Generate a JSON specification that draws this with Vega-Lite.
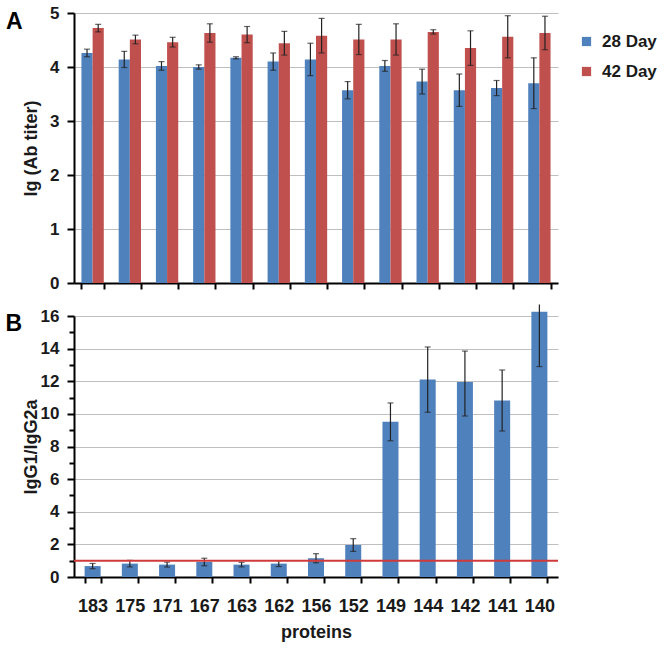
{
  "$schema": "https://vega.github.io/schema/vega-lite/v6.json",
  "background": "white",
  "padding": {"left": 5, "top": 4, "right": 0, "bottom": 4},
  "config": {
    "font": "Liberation Sans",
    "view": {"stroke": null},
    "axis": {"labelFont": "Liberation Sans", "titleFont": "Liberation Sans", "labelFontWeight": "bold", "titleFontWeight": "bold", "labelColor": "#1a1a1a", "titleColor": "#1a1a1a", "domainColor": "black", "domainWidth": 2, "tickColor": "black", "tickWidth": 2, "gridColor": "#bfbfbf", "gridWidth": 1},
    "axisY": {"labelOverlap": false}
  },
  "datasets": {
    "titer": [
      {"protein": "183", "day": "28 Day", "v": 4.26, "lo": 4.19, "hi": 4.33},
      {"protein": "183", "day": "42 Day", "v": 4.72, "lo": 4.65, "hi": 4.79},
      {"protein": "175", "day": "28 Day", "v": 4.14, "lo": 3.99, "hi": 4.29},
      {"protein": "175", "day": "42 Day", "v": 4.51, "lo": 4.43, "hi": 4.59},
      {"protein": "171", "day": "28 Day", "v": 4.02, "lo": 3.94, "hi": 4.10},
      {"protein": "171", "day": "42 Day", "v": 4.46, "lo": 4.37, "hi": 4.55},
      {"protein": "167", "day": "28 Day", "v": 4.00, "lo": 3.96, "hi": 4.04},
      {"protein": "167", "day": "42 Day", "v": 4.63, "lo": 4.46, "hi": 4.80},
      {"protein": "163", "day": "28 Day", "v": 4.17, "lo": 4.15, "hi": 4.19},
      {"protein": "163", "day": "42 Day", "v": 4.60, "lo": 4.45, "hi": 4.75},
      {"protein": "162", "day": "28 Day", "v": 4.10, "lo": 3.94, "hi": 4.26},
      {"protein": "162", "day": "42 Day", "v": 4.44, "lo": 4.22, "hi": 4.66},
      {"protein": "156", "day": "28 Day", "v": 4.14, "lo": 3.84, "hi": 4.44},
      {"protein": "156", "day": "42 Day", "v": 4.58, "lo": 4.26, "hi": 4.90},
      {"protein": "152", "day": "28 Day", "v": 3.57, "lo": 3.41, "hi": 3.73},
      {"protein": "152", "day": "42 Day", "v": 4.51, "lo": 4.23, "hi": 4.79},
      {"protein": "149", "day": "28 Day", "v": 4.02, "lo": 3.92, "hi": 4.12},
      {"protein": "149", "day": "42 Day", "v": 4.51, "lo": 4.22, "hi": 4.80},
      {"protein": "144", "day": "28 Day", "v": 3.73, "lo": 3.50, "hi": 3.96},
      {"protein": "144", "day": "42 Day", "v": 4.65, "lo": 4.61, "hi": 4.69},
      {"protein": "142", "day": "28 Day", "v": 3.57, "lo": 3.27, "hi": 3.87},
      {"protein": "142", "day": "42 Day", "v": 4.35, "lo": 4.03, "hi": 4.67},
      {"protein": "141", "day": "28 Day", "v": 3.61, "lo": 3.47, "hi": 3.75},
      {"protein": "141", "day": "42 Day", "v": 4.56, "lo": 4.17, "hi": 4.95},
      {"protein": "140", "day": "28 Day", "v": 3.70, "lo": 3.23, "hi": 4.17},
      {"protein": "140", "day": "42 Day", "v": 4.63, "lo": 4.32, "hi": 4.94}
    ],
    "ratio": [
      {"protein": "183", "v": 0.67, "lo": 0.51, "hi": 0.83},
      {"protein": "175", "v": 0.82, "lo": 0.62, "hi": 1.02},
      {"protein": "171", "v": 0.76, "lo": 0.61, "hi": 0.91},
      {"protein": "167", "v": 0.92, "lo": 0.69, "hi": 1.15},
      {"protein": "163", "v": 0.76, "lo": 0.62, "hi": 0.90},
      {"protein": "162", "v": 0.82, "lo": 0.64, "hi": 1.00},
      {"protein": "156", "v": 1.15, "lo": 0.87, "hi": 1.43},
      {"protein": "152", "v": 1.96, "lo": 1.57, "hi": 2.35},
      {"protein": "149", "v": 9.51, "lo": 8.35, "hi": 10.67},
      {"protein": "144", "v": 12.10, "lo": 10.10, "hi": 14.10},
      {"protein": "142", "v": 11.96, "lo": 9.87, "hi": 13.85},
      {"protein": "141", "v": 10.82, "lo": 8.95, "hi": 12.69},
      {"protein": "140", "v": 16.26, "lo": 12.90, "hi": 16.70}
    ],
    "ref": [{"y": 1}]
  },
  "vconcat": [
    {
      "width": 484,
      "height": 270,
      "title": {"text": "A", "orient": "left", "anchor": "end", "angle": 0, "fontSize": 23, "fontWeight": "bold", "font": "Liberation Sans", "offset": 0, "baseline": "top", "align": "left", "dy": 7},
      "data": {"name": "titer"},
      "encoding": {
        "x": {"field": "protein", "type": "nominal", "sort": null, "scale": {"paddingInner": 0.4, "paddingOuter": 0.2}, "axis": {"labels": false, "title": null, "tickBand": "extent", "tickSize": 6}},
        "xOffset": {"field": "day", "type": "nominal", "scale": {"paddingInner": 0, "paddingOuter": 0}}
      },
      "layer": [
        {
          "mark": {"type": "bar"},
          "encoding": {
            "y": {"field": "v", "type": "quantitative", "scale": {"domain": [0, 5], "nice": false}, "axis": {"values": [0, 1, 2, 3, 4, 5], "title": "lg (Ab titer)", "titleFontSize": 18, "labelFontSize": 17, "tickSize": 7, "labelPadding": 8, "titlePadding": 9, "grid": true}},
            "color": {"field": "day", "type": "nominal", "scale": {"domain": ["28 Day", "42 Day"], "range": ["#4f81bd", "#c0504d"]}, "legend": {"title": null, "orient": "none", "legendX": 504, "legendY": 20, "labelFontSize": 17, "labelFontWeight": "bold", "labelColor": "#1a1a1a", "symbolType": "square", "symbolSize": 85, "symbolStrokeWidth": 0, "rowPadding": 12, "labelOffset": 7, "padding": 0}}
          }
        },
        {
          "mark": {"type": "rule", "color": "#222", "strokeWidth": 1.2},
          "encoding": {"y": {"field": "lo", "type": "quantitative"}, "y2": {"field": "hi"}}
        },
        {
          "mark": {"type": "tick", "orient": "horizontal", "color": "#222", "thickness": 1.2, "size": 6},
          "encoding": {"y": {"field": "lo", "type": "quantitative"}}
        },
        {
          "mark": {"type": "tick", "orient": "horizontal", "color": "#222", "thickness": 1.2, "size": 6},
          "encoding": {"y": {"field": "hi", "type": "quantitative"}}
        }
      ]
    },
    {
      "width": 484,
      "height": 261,
      "title": {"text": "B", "orient": "left", "anchor": "end", "angle": 0, "fontSize": 23, "fontWeight": "bold", "font": "Liberation Sans", "offset": 0, "baseline": "top", "align": "left", "dy": 9},
      "resolve": {"scale": {"y": "independent"}, "axis": {"y": "independent"}},
      "layer": [
        {
          "data": {"name": "ratio"},
          "encoding": {
            "x": {"field": "protein", "type": "nominal", "sort": null, "scale": {"paddingInner": 0.57, "paddingOuter": 0.285}, "axis": {"title": "proteins", "titleFontSize": 18, "labelFontSize": 18, "labelAngle": 0, "tickBand": "extent", "tickSize": 6, "labelPadding": 14, "titlePadding": 8}}
          },
          "layer": [
            {
              "mark": {"type": "bar", "color": "#4f81bd"},
              "encoding": {
                "y": {"field": "v", "type": "quantitative", "scale": {"domain": [0, 16], "nice": false}, "axis": {"orient": "left", "values": [0, 2, 4, 6, 8, 10, 12, 14, 16], "labelOverlap": false, "title": "IgG1/IgG2a", "titleFontSize": 18, "labelFontSize": 17, "tickSize": 7, "labelPadding": 8, "titlePadding": 0, "grid": true}}
              }
            },
            {
              "mark": {"type": "rule", "color": "#222", "strokeWidth": 1.2, "clip": false},
              "encoding": {"y": {"field": "lo", "type": "quantitative", "axis": {"orient": "left", "values": [0, 2, 4, 6, 8, 10, 12, 14, 16], "labelOverlap": false, "title": "IgG1/IgG2a", "titleFontSize": 18, "labelFontSize": 17, "tickSize": 7, "labelPadding": 8, "titlePadding": 0, "grid": true}}, "y2": {"field": "hi"}}
            },
            {
              "mark": {"type": "tick", "orient": "horizontal", "color": "#222", "thickness": 1.2, "size": 6},
              "encoding": {"y": {"field": "lo", "type": "quantitative", "axis": {"orient": "left", "values": [0, 2, 4, 6, 8, 10, 12, 14, 16], "labelOverlap": false, "title": "IgG1/IgG2a", "titleFontSize": 18, "labelFontSize": 17, "tickSize": 7, "labelPadding": 8, "titlePadding": 0, "grid": true}}}
            },
            {
              "transform": [{"filter": "datum.hi <= 16"}],
              "mark": {"type": "tick", "orient": "horizontal", "color": "#222", "thickness": 1.2, "size": 6},
              "encoding": {"y": {"field": "hi", "type": "quantitative", "axis": {"orient": "left", "values": [0, 2, 4, 6, 8, 10, 12, 14, 16], "labelOverlap": false, "title": "IgG1/IgG2a", "titleFontSize": 18, "labelFontSize": 17, "tickSize": 7, "labelPadding": 8, "titlePadding": 0, "grid": true}}}
            }
          ]
        },
        {
          "data": {"name": "ref"},
          "mark": {"type": "rule", "color": "#d03a3a", "strokeWidth": 2},
          "encoding": {"y": {"field": "y", "type": "quantitative", "scale": {"domain": [0, 16], "nice": false}, "axis": {"orient": "left", "values": [1, 3, 5, 7, 9, 11, 13, 15], "labels": false, "domain": false, "grid": false, "title": null, "tickSize": 5, "offset": 0}}}
        }
      ]
    }
  ],
  "spacing": 12
}
